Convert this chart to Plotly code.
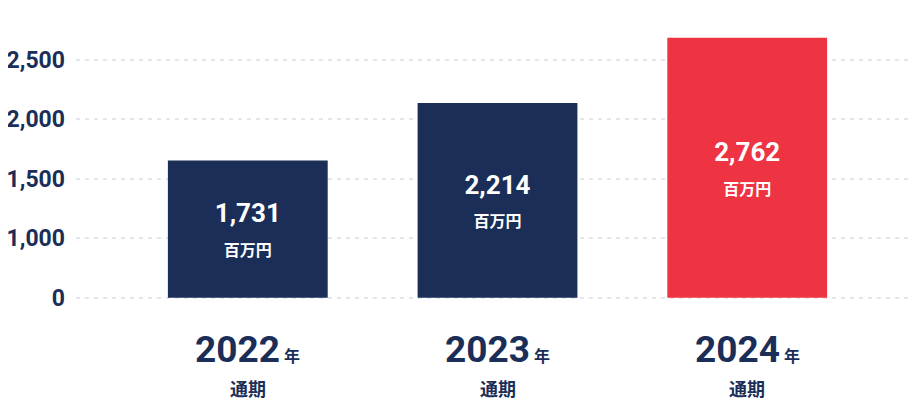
import plotly.graph_objects as go

# Sales by fiscal year (millions of yen)
years = ["2022", "2023", "2024"]
sales = [1731, 2214, 2762]
bar_colors = ["#1a2e58", "#1a2e58", "#ee3343"]

# The chart's value axis is cut: the "0" line sits at AXIS_FLOOR
AXIS_FLOOR = 580
tick_labels = ["0", "1,000", "1,500", "2,000", "2,500"]
tick_steps = [0, 500, 1000, 1500, 2000]

navy = "#1a2e58"
grid_color = "#e4e6ee"

fig = go.Figure()

fig.add_trace(go.Bar(
    x=years,
    y=[v - AXIS_FLOOR for v in sales],
    base=AXIS_FLOOR,
    width=0.64,
    marker=dict(color=bar_colors, line=dict(width=0)),
    text=[f"<b>{v:,}</b><br><span style='font-size:16px'><b>百万円</b></span>" for v in sales],
    textposition="inside",
    insidetextanchor="middle",
    textangle=0,
    textfont=dict(family="Roboto, 'Noto Sans CJK JP'", size=26, color="white"),
    hoverinfo="skip",
))

# category labels under the bars
for i, yr in enumerate(years):
    fig.add_annotation(
        x=i, y=-0.106, xref="x", yref="paper",
        text=f"<b>{yr}</b><span style='font-size:16px'><b> 年</b></span>",
        showarrow=False, xanchor="center", yanchor="middle",
        font=dict(family="Roboto, 'Noto Sans CJK JP'", size=37, color=navy),
    )
    fig.add_annotation(
        x=i, y=-0.234, xref="x", yref="paper",
        text="<b>通期</b>",
        showarrow=False, xanchor="center", yanchor="middle",
        font=dict(family="'Noto Sans CJK JP'", size=18, color=navy),
    )

fig.update_layout(
    width=918, height=400,
    margin=dict(l=68, r=0, t=12, b=90),
    plot_bgcolor="white", paper_bgcolor="white",
    showlegend=False,
    xaxis=dict(
        type="category",
        range=[-0.688, 2.716],
        showticklabels=False, showgrid=False, zeroline=False, showline=False,
    ),
    yaxis=dict(
        range=[409.6, 2911.7],
        tickvals=[AXIS_FLOOR + s for s in tick_steps],
        ticktext=tick_labels,
        showgrid=True, gridcolor=grid_color, griddash="4px,5px", gridwidth=2,
        zeroline=False, showline=False, ticks="",
        ticklabelstandoff=10,
        tickfont=dict(family="Roboto", size=23, color=navy, weight="bold"),
    ),
)

fig.write_html("out.html")
